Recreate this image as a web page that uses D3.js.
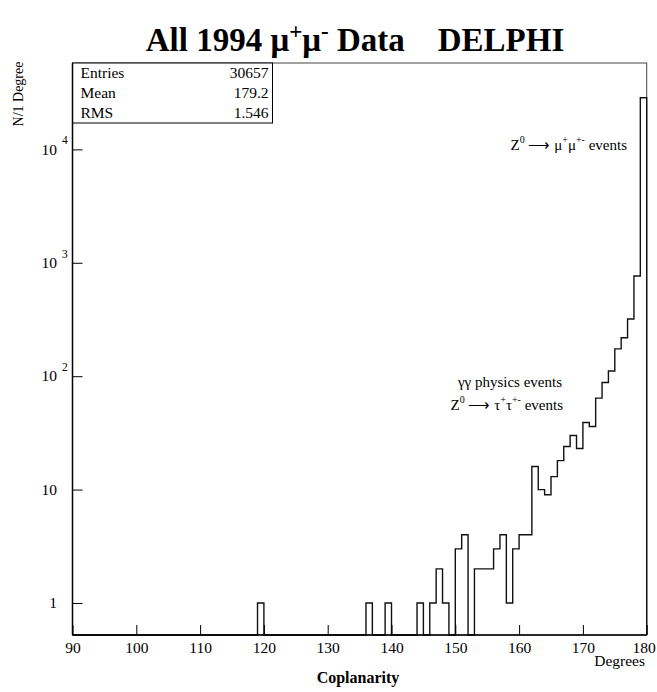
<!DOCTYPE html>
<html>
<head>
<meta charset="utf-8">
<script src="https://cdn.jsdelivr.net/npm/d3@7"></script>
<style>
  html, body { margin: 0; background: #fff; overflow: hidden; }
  svg { display: block; }
  svg text { font-family: "Liberation Serif", "Times New Roman", serif; fill: #000; }
</style>
</head>
<body>
<div id="chart"></div>
<script>
// histogram bins (1 degree wide), only the non-empty ones
var binLow = [119, 136, 139, 144, 146, 147, 148, 150, 151, 153, 154, 155, 156, 157, 158, 159,
              160, 161, 162, 163, 164, 165, 166, 167, 168, 169, 170, 171, 172, 173, 174, 175,
              176, 177, 178, 179]
var binCount = [1, 1, 1, 1, 1, 2, 1, 3, 4, 2, 2, 2, 3, 4, 1, 3,
                4, 4, 16, 10, 9, 13, 18, 24, 30, 23, 39, 36, 64, 88, 111, 174,
                218, 319, 765, 28500]
var xTicks = [90, 100, 110, 120, 130, 140, 150, 160, 170, 180]
var yTicks = [1, 10, 100, 1000, 10000]
var statNames = ["Entries", "Mean", "RMS"]
var statValues = ["30657", "179.2", "1.546"]

var W = 657, H = 692
var padL = 72.5, padR = 646.7, padT = 63, padB = 635

var svg = d3.select('#chart').append('svg')
  .attr('width', W)
  .attr('height', H)

var x = d3.scaleLinear().domain([90, 180]).range([padL, padR])
var y = d3.scaleLog().domain([0.522, 57800]).range([padB, padT])

// full list of bins 90..179
var bins = d3.range(90, 180).map(function(b) {
  var i = binLow.indexOf(b)
  return { x0: b, x1: b + 1, n: i < 0 ? 0 : binCount[i] }
})

// frame
svg.append('rect')
  .attr('x', padL).attr('y', padT)
  .attr('width', padR - padL).attr('height', padB - padT)
  .attr('fill', 'none')
  .attr('stroke', '#444')
  .attr('stroke-width', 1)

// histogram outline
var yv = function(n) { return n > 0 ? y(n) : padB }
var d = 'M' + x(90) + ',' + padB
bins.forEach(function(b) {
  d += 'L' + x(b.x0) + ',' + yv(b.n) + 'L' + x(b.x1) + ',' + yv(b.n)
})
d += 'L' + x(180) + ',' + padB
svg.append('path')
  .attr('d', d)
  .attr('fill', 'none')
  .attr('stroke', '#111')
  .attr('stroke-width', 1.4)

// stats box
var box = svg.append('g')
box.append('rect')
  .attr('x', padL).attr('y', padT)
  .attr('width', 200).attr('height', 60)
  .attr('fill', '#fff')
  .attr('stroke', '#000')
  .attr('stroke-width', 1)
statNames.forEach(function(s, i) {
  box.append('text').attr('x', padL + 8).attr('y', padT + 14.5 + i * 20)
    .attr('font-size', 15.5).text(s)
  box.append('text').attr('x', padL + 196).attr('y', padT + 14.5 + i * 20)
    .attr('font-size', 15.5).attr('text-anchor', 'end').text(statValues[i])
})

// x axis
var xMajor = d3.axisBottom(x).tickValues(xTicks).tickSize(-10).tickPadding(7)
var xMinor = d3.axisBottom(x).tickValues(d3.range(90, 181, 2)).tickSize(-5).tickFormat('')
var gx = svg.append('g').attr('transform', 'translate(0,' + padB + ')')
gx.call(xMinor)
gx.call(xMajor)
gx.selectAll('path.domain').remove()
gx.selectAll('text').attr('font-size', 15.5).attr('font-family', '"Liberation Serif", serif')
gx.selectAll('.tick').filter(function(v) { return v === 180 }).select('text').attr('dx', -3)
gx.selectAll('line').attr('stroke', '#000')
svg.append('line').attr('x1', padL).attr('x2', padR).attr('y1', padB).attr('y2', padB)
  .attr('stroke', '#000').attr('stroke-width', 1.5)

// y axis
var yMinorVals = []
yTicks.forEach(function(t) { for (var k = 2; k <= 9; k++) yMinorVals.push(t * k) })
yMinorVals = yMinorVals.filter(function(v) { return v < 57800 })
yMinorVals.push(0.6, 0.7, 0.8, 0.9)
var yMajor = d3.axisLeft(y).tickValues(yTicks).tickSize(-10).tickFormat('')
var yMinor = d3.axisLeft(y).tickValues(yMinorVals).tickSize(-6).tickFormat('')
var gy = svg.append('g').attr('transform', 'translate(' + padL + ',0)')
gy.call(yMinor)
gy.call(yMajor)
gy.selectAll('path.domain').remove()
gy.selectAll('line').attr('stroke', '#000')
svg.append('line').attr('x1', padL).attr('x2', padL).attr('y1', padT).attr('y2', padB)
  .attr('stroke', '#000').attr('stroke-width', 1.5)

yTicks.forEach(function(t) {
  var e = Math.round(Math.log10(t))
  var base = e < 2 ? String(t) : '10'
  svg.append('text').attr('x', 57).attr('y', y(t)).attr('dy', '0.33em')
    .attr('text-anchor', 'end').attr('font-size', 15.5).text(base)
  if (e >= 2) {
    svg.append('text').attr('x', 62).attr('y', y(t) - 5)
      .attr('font-size', 11.5).text(e)
  }
})

// titles
svg.append('text').attr('x', 355).attr('y', 51)
  .attr('text-anchor', 'middle').attr('font-size', 33).attr('font-weight', 'bold')
  .html('All 1994 μ<tspan dy="-12" font-size="23">+</tspan><tspan dy="12">μ</tspan><tspan dy="-12" font-size="23">-</tspan><tspan dy="12"> Data\u00a0\u00a0\u00a0\u00a0DELPHI</tspan>')

svg.append('text')
  .attr('transform', 'translate(23,94) rotate(-90)')
  .attr('text-anchor', 'middle').attr('font-size', 14)
  .text('N/1 Degree')

svg.append('text').attr('x', 358).attr('y', 683)
  .attr('text-anchor', 'middle').attr('font-size', 16).attr('font-weight', 'bold')
  .text('Coplanarity')

svg.append('text').attr('x', 645).attr('y', 666)
  .attr('text-anchor', 'end').attr('font-size', 15.5)
  .text('Degrees')

// annotations
svg.append('text').attr('x', 627).attr('y', 150)
  .attr('text-anchor', 'end').attr('font-size', 15)
  .html('Z<tspan dy="-7" font-size="10">0</tspan><tspan dy="7"> \u27f6 μ</tspan><tspan dy="-7" font-size="10">+</tspan><tspan dy="7">μ</tspan><tspan dy="-7" font-size="10">+-</tspan><tspan dy="7"> events</tspan>')

svg.append('text').attr('x', 562).attr('y', 387)
  .attr('text-anchor', 'end').attr('font-size', 15)
  .text('γγ physics events')

svg.append('text').attr('x', 563).attr('y', 410)
  .attr('text-anchor', 'end').attr('font-size', 15)
  .html('Z<tspan dy="-7" font-size="10">0</tspan><tspan dy="7"> \u27f6 τ</tspan><tspan dy="-7" font-size="10">+</tspan><tspan dy="7">τ</tspan><tspan dy="-7" font-size="10">+-</tspan><tspan dy="7"> events</tspan>')
</script>
</body>
</html>
